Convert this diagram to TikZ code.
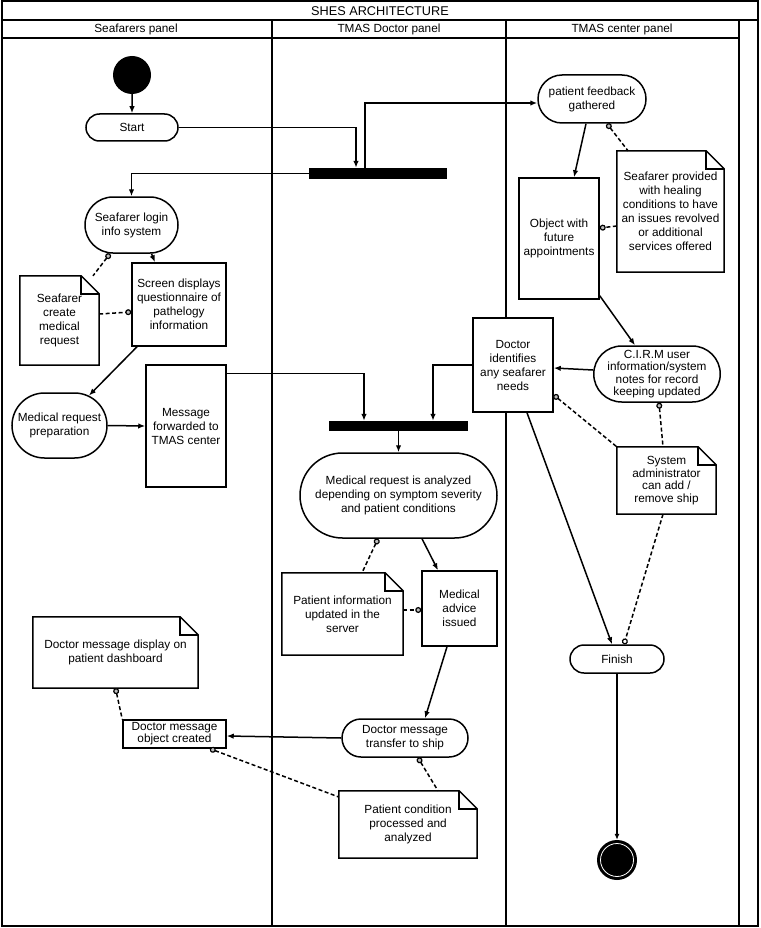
\documentclass[tikz,border=0pt]{standalone}
\usepackage{fontspec}
\setmainfont{Liberation Sans}
\usetikzlibrary{arrows.meta,shapes.misc,positioning}
\begin{document}
\begin{tikzpicture}[x=1pt,y=-1pt,
  every node/.style={font=\fontsize{11.8}{14}\selectfont, align=center, inner sep=0pt},
  lw/.style={line width=1.5pt},
  box/.style={draw, lw, rectangle, fill=white},
  act/.style={draw, lw, rounded rectangle, fill=white},
  notebox/.style={rectangle, fill=white},
  barnode/.style={rectangle, fill=black},
  arr/.style={lw, -{Latex[length=7pt,width=5.5pt]}},
  dsh/.style={lw, dash pattern=on 4pt off 2.5pt},
  dotstart/.style={dsh, {Circle[length=6pt,fill=gray!50,line width=1.2pt]}-},
  dotend/.style={dsh, -{Circle[length=6pt,fill=gray!50,line width=1.2pt]}},
  hollowend/.style={dsh, -{Circle[length=6pt,fill=white,line width=1.2pt]}},
  lane/.style={line width=1.5pt}
]
\useasboundingbox (0,0) rectangle (760,928);
\newcommand\dognote[1]{%
  \draw[lw] (#1.north west) -- ([xshift=-18pt]#1.north east) -- ([yshift=-18pt]#1.north east) -- (#1.south east) -- (#1.south west) -- cycle;
  \draw[lw] ([xshift=-18pt]#1.north east) |- ([yshift=-18pt]#1.north east);}

% frame
\draw[lane] (2,1) rectangle (758,926);
\draw[lane] (2,20) -- (758,20);
\draw[lane] (2,38) -- (739,38);
\draw[lane] (272,20) -- (272,926);
\draw[lane] (506,20) -- (506,926);
\draw[lane] (739,20) -- (739,926);
\node[font=\fontsize{12.7}{14}\selectfont] (title) at (380,11) {SHES ARCHITECTURE};
\node (h1) at (136,29.5) {Seafarers panel};
\node (h2) at (389,29.5) {TMAS Doctor panel};
\node (h3) at (622,29.5) {TMAS center panel};

% seafarers lane
\node[circle, fill=black, minimum size=38pt] (init) at (132,75) {};
\node[act, minimum width=92pt, minimum height=27pt] (start) at (132,127.5) {Start};
\node[act, minimum width=93pt, minimum height=56pt] (login) at (131.5,225) {Seafarer login\\info system};
\node[box, minimum width=94pt, minimum height=83pt] (screen) at (179,304.5) {Screen displays\\questionnaire of\\pathelogy\\information};
\node[notebox, minimum width=79pt, minimum height=89pt] (note1) at (59.5,320.5) {Seafarer\\create\\medical\\request};
\node[act, minimum width=95pt, minimum height=65pt] (prep) at (59.5,425.5) {Medical request\\preparation};
\node[box, minimum width=80pt, minimum height=122pt] (msgfwd) at (186,426) {Message\\forwarded to\\TMAS center};
\node[notebox, minimum width=165pt, minimum height=71pt] (note3) at (115.5,652.5) {Doctor message display on\\patient dashboard};
\node[box, minimum width=103pt, minimum height=28pt, font=\fontsize{11.8}{12}\selectfont] (objcreated) at (174.5,734) {Doctor message\\object created};

% doctor lane
\node[barnode, minimum width=138pt, minimum height=11pt] (bar1) at (378,173.5) {};
\node[barnode, minimum width=139pt, minimum height=10pt] (bar2) at (398.5,426) {};
\node[act, minimum width=197pt, minimum height=85pt] (analyzed) at (398.5,495.5) {Medical request is analyzed\\depending on symptom severity\\and patient conditions};
\node[box, minimum width=75pt, minimum height=75pt] (advice) at (459.5,608.5) {Medical\\advice\\issued};
\node[notebox, minimum width=121pt, minimum height=82pt] (note2) at (342.5,614) {Patient information\\updated in the\\server};
\node[act, minimum width=126pt, minimum height=38pt] (transfer) at (405,738) {Doctor message\\transfer to ship};
\node[notebox, minimum width=138pt, minimum height=67pt] (note4) at (408,824.5) {Patient condition\\processed and\\analyzed};

% center lane
\node[act, minimum width=108pt, minimum height=48pt] (feedback) at (592,99) {patient feedback\\gathered};
\node[box, minimum width=80pt, minimum height=121pt] (objfuture) at (559,238.5) {Object with\\future\\appointments};
\node[notebox, minimum width=107pt, minimum height=121pt] (note5) at (670.5,211.5) {Seafarer provided\\with healing\\conditions to have\\an issues revolved\\or additional\\services offered};
\node[act, minimum width=126pt, minimum height=56pt, font=\fontsize{11.8}{12.5}\selectfont] (cirm) at (657,374) {C.I.R.M user\\information/system\\notes for record\\keeping updated};
\node[box, minimum width=80pt, minimum height=94pt] (docid) at (513,365) {Doctor\\identifies\\any seafarer\\needs};
\node[notebox, minimum width=99pt, minimum height=67pt, font=\fontsize{11.8}{12.5}\selectfont] (note6) at (666.5,480.5) {System\\administrator\\can add /\\remove ship};
\node[act, minimum width=94pt, minimum height=28pt] (finish) at (617,659) {Finish};
\node[circle, fill=black, minimum size=40pt] (final) at (617,860) {};
\draw[white, line width=0.8pt] (final.center) circle (16.5pt);

% note outlines
\dognote{note1}
\dognote{note2}
\dognote{note3}
\dognote{note4}
\dognote{note5}
\dognote{note6}

% control flow
\draw[arr] (init) -- (start);
\draw[arr] (start.east) -| ([xshift=-22pt]bar1.north);
\draw[arr] ([xshift=-13pt]bar1.north) |- ([yshift=-4pt]feedback.west);
\draw[arr] (bar1.west) -| (login.north);
\draw[arr] ([xshift=20pt]login.south) -- ([xshift=-24pt]screen.north);
\draw[arr] ([xshift=-42pt]screen.south) -- (prep);
\draw[arr] (prep.east) -- (msgfwd.west);
\draw[arr] ([yshift=-9pt]msgfwd.north east) -| ([xshift=-34.5pt]bar2.north);
\draw[arr] (docid.west) -| ([xshift=34.5pt]bar2.north);
\draw[arr] (bar2.south) -- (analyzed.north);
\draw[arr] ([xshift=23.5pt]analyzed.south) -- ([xshift=-21.5pt]advice.north);
\draw[arr] ([xshift=-12.5pt]advice.south) -- ([xshift=20pt]transfer.north);
\draw[arr] (transfer.west) -- ([yshift=-2pt]objcreated.east);
\draw[arr] ([xshift=-6pt]feedback.south) -- ([xshift=15pt]objfuture.north);
\draw[arr] ([yshift=4pt]objfuture.south east) -- ([xshift=-22pt]cirm.north);
\draw[arr] ([yshift=4pt]cirm.west) -- ([yshift=-3pt]docid.east);
\draw[arr] ([xshift=14pt]docid.south) -- ([xshift=-5pt]finish.north);
\draw[line width=1.1pt, -{Latex[length=6pt,width=5pt]}] (finish.south) -- (final.north);

% note links
\draw[dotstart] ([xshift=-21.5pt]login.south) -- ([xshift=33.5pt]note1.north);
\draw[dotend] ([yshift=6.5pt]note1.east) -- ([yshift=-7.5pt]screen.west);
\draw[dotstart] ([xshift=-20.5pt]analyzed.south) -- ([xshift=19.5pt]note2.north);
\draw[dotend] ([yshift=4pt]note2.east) -- ([yshift=-1.5pt]advice.west);
\draw[dotstart] (note3.south) -- (objcreated.north west);
\draw[dotstart] ([xshift=35.5pt]objcreated.south) -- ([yshift=27.5pt]note4.west);
\draw[dotstart] ([xshift=13pt]transfer.south) -- ([xshift=30pt]note4.north);
\draw[dotstart] ([xshift=15pt]feedback.south) -- ([xshift=-42.5pt]note5.north);
\draw[dotend] ([yshift=-14.5pt]note5.west) -- ([yshift=10.5pt]objfuture.east);
\draw[dotstart] ([yshift=-30pt]docid.east) -- (note6.north west);
\draw[dotstart] ([xshift=2pt]cirm.south) -- ([xshift=-3.5pt]note6.north);
\draw[hollowend] ([xshift=-3.5pt]note6.south) -- ([xshift=7pt]finish.north);
\end{tikzpicture}
\end{document}
